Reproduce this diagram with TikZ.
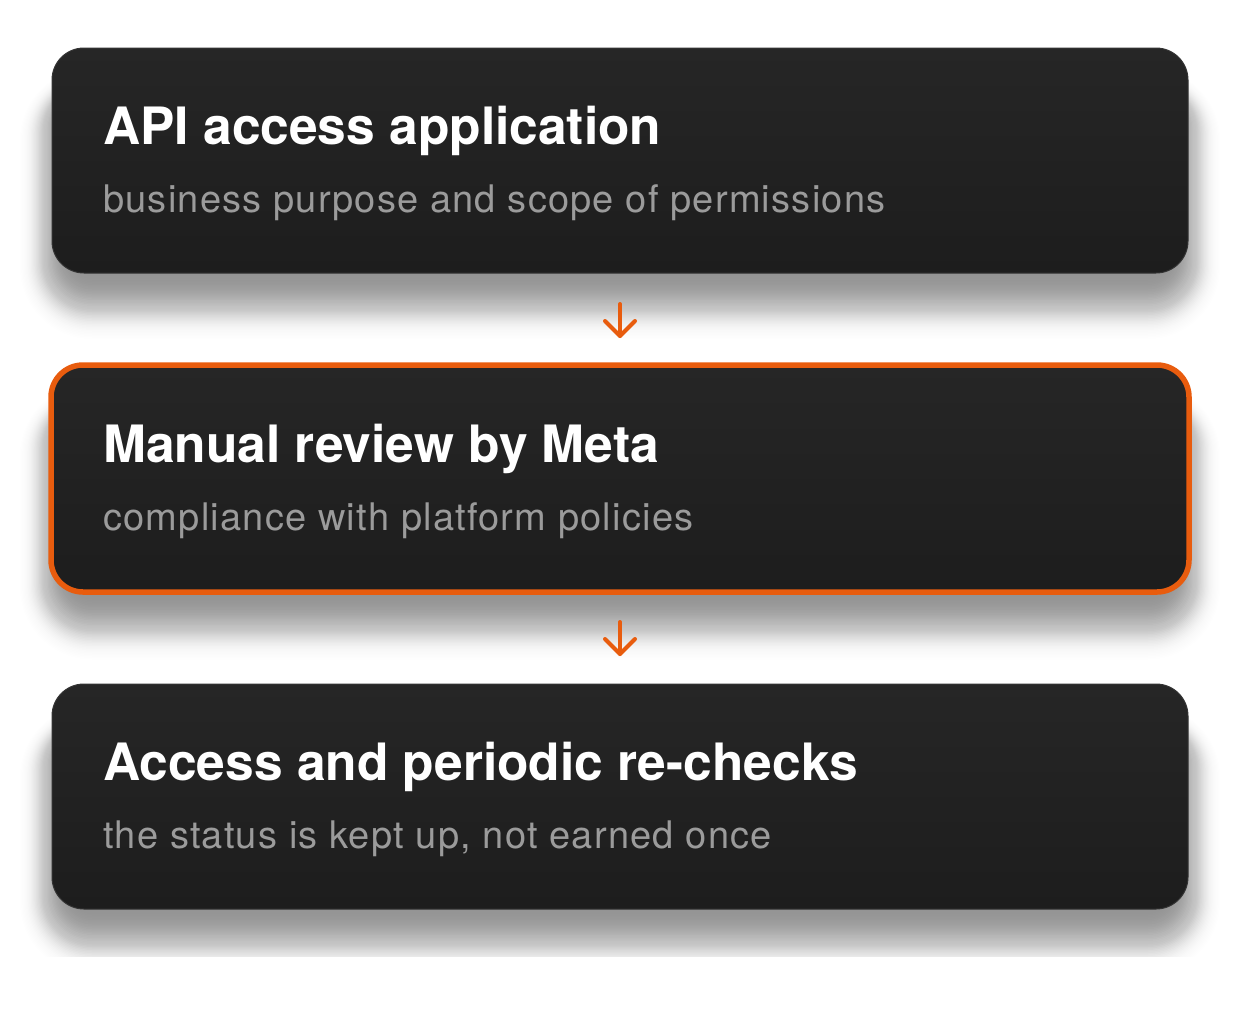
\documentclass[tikz,border=0pt]{standalone}
\usepackage{fontspec}
\setmainfont{TeX Gyre Heros}
\usetikzlibrary{arrows.meta}
\definecolor{orng}{RGB}{232,92,14}
\definecolor{boxtop}{RGB}{38,38,38}
\definecolor{boxbot}{RGB}{29,29,29}
\definecolor{subgray}{RGB}{155,155,155}
\definecolor{edgegray}{RGB}{52,52,52}
\tikzset{
  card/.style={rounded corners=32pt, top color=boxtop, bottom color=boxbot, draw=edgegray, line width=1pt, minimum width=1136pt, minimum height=225pt, inner sep=0pt},
  hot/.style={draw=orng, line width=5.5pt},
  ttl/.style={anchor=base west, inner sep=0pt, text=white, font=\fontsize{51.5}{56}\selectfont\bfseries},
  sub/.style={anchor=base west, inner sep=0pt, text=subgray, font=\fontsize{38}{42}\selectfont\addfontfeature{LetterSpace=3.2}},
  flow/.style={draw=orng, line width=4pt, line cap=round, line join=round}
}
\newcommand{\cardshadow}[2]{% center y, height
  \foreach \k in {0,...,62}{
    \pgfmathsetmacro{\e}{-32+1.5*\k}
    \pgfmathsetmacro{\r}{max(12,40+0.8*\e)}
    \pgfmathsetmacro{\op}{0.021*exp(-((\k-27)/14)^2)}
    \fill[black, opacity=\op, rounded corners=\r pt]
      (52-\e*0.8, #1-#2/2+40-\e*0.5) rectangle (1188+\e*0.8, #1+#2/2+26+\e);
  }
}
\begin{document}
\begin{tikzpicture}[x=1pt, y=-1pt]
\useasboundingbox (0,0) rectangle (1240,1010);
\begin{scope}
  \clip (0,0) rectangle (1240,956);
  \cardshadow{160.5}{225}
  \cardshadow{478.5}{230}
  \cardshadow{796.5}{223}
\end{scope}
\node[card] (b1) at (620,160.5) {};
\node[card, hot, minimum width=1138pt, minimum height=227pt] (b2) at (620,478.5) {};
\node[card] (b3) at (620,796.5) {};
\node[ttl] (t1) at (103,144) {API access application};
\node[sub] (s1) at (103,212) {business purpose and scope of permissions};
\node[ttl] (t2) at (103,462) {Manual review by Meta};
\node[sub] (s2) at (103,530) {compliance with platform policies};
\node[ttl] (t3) at (103,780) {Access and periodic re-checks};
\node[sub] (s3) at (103,848) {the status is kept up, not earned once};
\coordinate (a1s) at (620,304);
\coordinate (a1e) at (620,336);
\coordinate (a2s) at (620,622);
\coordinate (a2e) at (620,654);
\draw[flow] (a1s) -- (a1e);
\draw[flow] (a1e) ++(-15,-15) -- (a1e) -- ++(15,-15);
\draw[flow] (a2s) -- (a2e);
\draw[flow] (a2e) ++(-15,-15) -- (a2e) -- ++(15,-15);
\end{tikzpicture}
\end{document}
